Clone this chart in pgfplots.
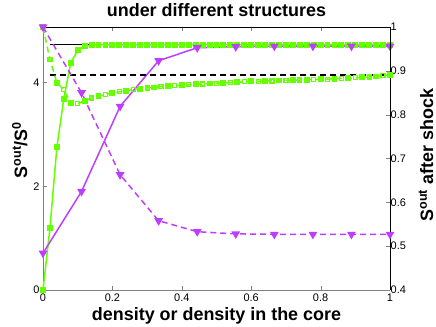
\documentclass[border=0pt]{standalone}
\usepackage{fontspec}
\setmainfont{Liberation Sans}
\usepackage{pgfplots}
\usepackage{pgfplotstable}
\pgfplotsset{compat=1.18}
\definecolor{lgreen}{RGB}{102,255,0}
\definecolor{lviolet}{RGB}{190,62,255}

% left axis: solid curves, S^out/S^0
\pgfplotstableread{
x y
0.00 0.00
0.02 1.19
0.04 2.75
0.06 3.69
0.08 4.38
0.10 4.62
0.12 4.70
0.14 4.72
0.16 4.73
0.18 4.73
0.20 4.73
0.22 4.73
0.24 4.73
0.26 4.73
0.28 4.73
0.30 4.73
0.32 4.73
0.34 4.73
0.36 4.73
0.38 4.73
0.40 4.73
0.42 4.73
0.44 4.73
0.46 4.73
0.48 4.73
0.50 4.73
0.52 4.73
0.54 4.73
0.56 4.73
0.58 4.73
0.60 4.73
0.62 4.73
0.64 4.73
0.66 4.73
0.68 4.73
0.70 4.73
0.72 4.73
0.74 4.73
0.76 4.73
0.78 4.73
0.80 4.73
0.82 4.73
0.84 4.73
0.86 4.73
0.88 4.73
0.90 4.73
0.92 4.73
0.94 4.73
0.96 4.73
0.98 4.73
1.00 4.73
}\greensolid

\pgfplotstableread{
x y
0.0000 0.71
0.1111 1.90
0.2222 3.54
0.3333 4.42
0.4444 4.67
0.5556 4.69
0.6667 4.70
0.7778 4.70
0.8889 4.70
1.0000 4.70
}\violetsolid

% right axis: dashed curves, S^out after shock
\pgfplotstableread{
x y
0.00 1.000
0.02 0.926
0.04 0.873
0.06 0.857
0.08 0.826
0.10 0.825
0.12 0.832
0.14 0.838
0.16 0.842
0.18 0.846
0.20 0.849
0.22 0.852
0.24 0.855
0.26 0.857
0.28 0.859
0.30 0.861
0.32 0.862
0.34 0.864
0.36 0.865
0.38 0.866
0.40 0.867
0.42 0.868
0.44 0.869
0.46 0.870
0.48 0.871
0.50 0.872
0.52 0.872
0.54 0.873
0.56 0.874
0.58 0.875
0.60 0.876
0.62 0.876
0.64 0.877
0.66 0.877
0.68 0.878
0.70 0.878
0.72 0.879
0.74 0.879
0.76 0.880
0.78 0.880
0.80 0.881
0.82 0.881
0.84 0.882
0.86 0.883
0.88 0.883
0.90 0.884
0.92 0.885
0.94 0.886
0.96 0.887
0.98 0.889
1.00 0.891
}\greendashed

\pgfplotstableread{
x y
0.0000 1.000
0.1111 0.850
0.2222 0.663
0.3333 0.558
0.4444 0.533
0.5556 0.528
0.6667 0.527
0.7778 0.527
0.8889 0.527
1.0000 0.527
}\violetdashed

\begin{document}
\begin{tikzpicture}
\pgfplotsset{
  every axis/.append style={
    scale only axis, width=347bp, height=263bp,
    xmin=0, xmax=1, clip=false,
    tick align=inside, major tick length=4bp,
    xtick={0,0.2,0.4,0.6,0.8,1},
    ticklabel style={font=\fontsize{11}{12}\selectfont},
    /pgf/number format/assume math mode=true,
  },
}
\begin{axis}[
  ymin=0, ymax=5.07,
  axis x line*=bottom, axis y line*=left,
  axis line style={gray}, tick style={gray},
  ytick={0,2,4},
  xticklabels={0,0.2,0.4,0.6,0.8,1},
]
\addplot[black, line width=1.5bp] coordinates {(0.02,4.73) (1,4.73)};
\addplot[lgreen, line width=1.5bp, mark=square*, mark size=2.2bp] table {\greensolid};
\addplot[lviolet, line width=1.5bp, mark=triangle*, mark size=3.6bp,
  mark options={rotate=180}] table {\violetsolid};
\end{axis}
\begin{axis}[
  ymin=0.4, ymax=1,
  axis x line*=top, axis y line*=right,
  xticklabels={},
  ytick={0.4,0.5,0.6,0.7,0.8,0.9,1},
  yticklabels={0.4,0.5,0.6,0.7,0.8,0.9,1},
  yticklabel style={inner xsep=0.5bp},
]
\addplot[black, line width=1.5bp, dash pattern=on 6bp off 4bp] coordinates {(0.02,0.890) (1,0.890)};
\addplot[lgreen, line width=1.5bp, dash pattern=on 6bp off 4bp, mark=square*, mark size=2.2bp,
  mark repeat=2, mark options={solid}] table {\greendashed};
\addplot[lgreen, only marks, mark=square, mark size=2bp, mark repeat=2, mark phase=2,
  mark options={solid, fill=white, line width=1.2bp}] table {\greendashed};
\addplot[lviolet, line width=1.5bp, dash pattern=on 6bp off 4bp, mark=triangle*, mark size=3.6bp,
  mark options={solid, rotate=180}] table {\violetdashed};
\end{axis}
\node[anchor=base, font=\bfseries\fontsize{18}{20}\selectfont] at (173.5bp,273bp) {under different structures};
\node[anchor=base, font=\bfseries\fontsize{18}{20}\selectfont] at (173.5bp,-30bp) {density or density in the core};
\node[anchor=base, rotate=90, font=\bfseries\fontsize{18}{20}\selectfont] at (-16bp,140bp) {S\textsuperscript{out}/S\textsuperscript{0}};
\node[anchor=base, rotate=90, inner sep=0pt, font=\bfseries\fontsize{18}{20}\selectfont] at (390bp,135bp) {S\textsuperscript{out} after shock};
\pgfresetboundingbox
\path (-43bp,-37bp) rectangle (393bp,290bp);
\end{tikzpicture}
\end{document}
